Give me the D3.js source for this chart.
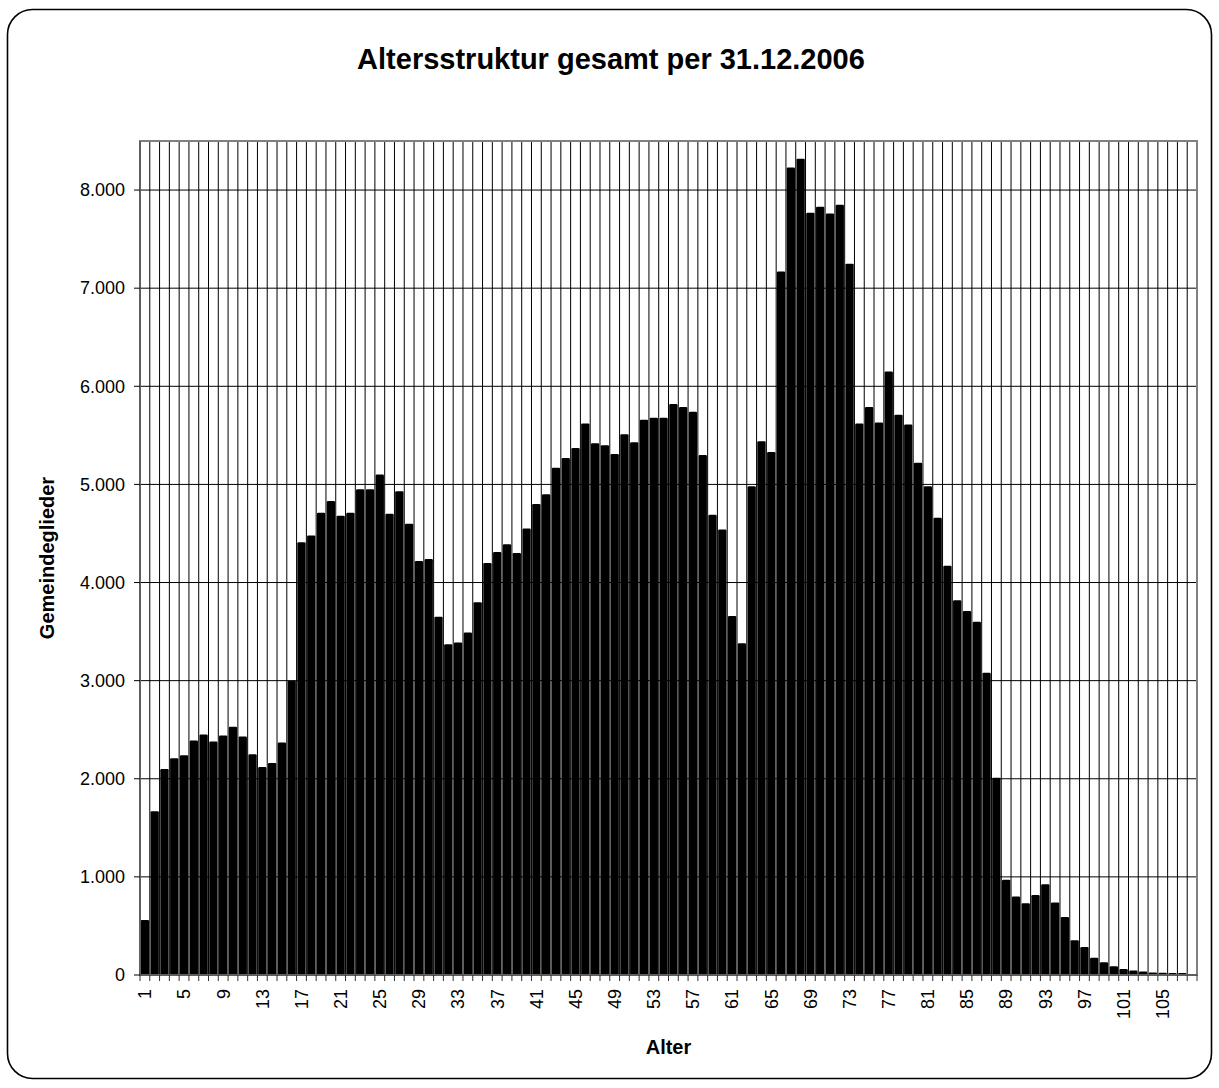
<!DOCTYPE html>
<html>
<head>
<meta charset="utf-8">
<script src="https://cdn.jsdelivr.net/npm/d3@7"></script>
<style>
  html, body { margin: 0; padding: 0; background: #fff; }
  svg { display: block; font-family: "Liberation Sans", Arial, sans-serif; }
</style>
</head>
<body>
<svg id="chart" width="1219" height="1088"></svg>
<script>
// Ages (categories)
const ages = [
  1,2,3,4,5,6,7,8,9,10,11,12,13,14,15,16,17,18,19,20,
  21,22,23,24,25,26,27,28,29,30,31,32,33,34,35,36,37,38,39,40,
  41,42,43,44,45,46,47,48,49,50,51,52,53,54,55,56,57,58,59,60,
  61,62,63,64,65,66,67,68,69,70,71,72,73,74,75,76,77,78,79,80,
  81,82,83,84,85,86,87,88,89,90,91,92,93,94,95,96,97,98,99,100,
  101,102,103,104,105,106,107,108
];

// Number of members per age
const members = [
  560,1670,2100,2210,2240,2390,2450,2380,2440,2530,
  2430,2250,2120,2160,2370,3000,4410,4480,4710,4830,
  4680,4710,4950,4950,5100,4700,4930,4600,4220,4240,
  3650,3370,3390,3490,3800,4200,4310,4390,4300,4550,
  4800,4900,5170,5270,5370,5620,5420,5400,5310,5510,
  5430,5660,5680,5680,5820,5790,5740,5300,4690,4540,
  3660,3380,4980,5440,5330,7170,8230,8320,7770,7830,
  7760,7850,7250,5620,5790,5630,6150,5710,5610,5220,
  4980,4660,4170,3820,3710,3600,3080,2010,970,800,
  730,815,925,740,590,355,285,175,130,90,
  60,45,35,25,22,20,20,0
];

// Labelled ages on the x axis
const xTickLabels = [1,5,9,13,17,21,25,29,33,37,41,45,49,53,57,61,65,69,73,77,81,85,89,93,97,101,105];

// Y axis ticks
const yTicks = [0,1000,2000,3000,4000,5000,6000,7000,8000];

const titleText = "Altersstruktur gesamt per 31.12.2006";
const xTitle = "Alter";
const yTitle = "Gemeindeglieder";

const svg = d3.select("#chart");
const W = 1219, H = 1088;
const plot = { left: 140, top: 141, right: 1197, bottom: 975 };

// Outer rounded frame
svg.append("rect")
  .attr("x", 7.5).attr("y", 9.5)
  .attr("width", W - 15).attr("height", H - 19)
  .attr("rx", 25).attr("ry", 25)
  .attr("fill", "#fff")
  .attr("stroke", "#000")
  .attr("stroke-width", 1.6);

const data = ages.map((a, i) => ({ age: a, value: members[i] }));

const x = d3.scaleBand()
  .domain(ages)
  .range([plot.left, plot.right])
  .paddingInner(0.15)
  .paddingOuter(0.075);

const y = d3.scaleLinear()
  .domain([0, 8500])
  .range([plot.bottom, plot.top]);

const step = x.step();
const gapHalf = step * x.paddingInner() / 2;
const boundaries = ages.map(a => x(a) - gapHalf).concat([plot.right]);

const de = d3.formatLocale({ decimal: ",", thousands: ".", grouping: [3], currency: ["", " €"] });
const fmt = de.format(",.0f");

// Horizontal gridlines
svg.append("g")
  .selectAll("line")
  .data(yTicks.filter(v => v > 0))
  .join("line")
  .attr("x1", plot.left).attr("x2", plot.right)
  .attr("y1", d => y(d)).attr("y2", d => y(d))
  .attr("stroke", "#000")
  .attr("stroke-width", 1);

// Vertical gridlines at every category boundary
svg.append("g")
  .selectAll("line")
  .data(boundaries.slice(1, -1))
  .join("line")
  .attr("x1", d => d).attr("x2", d => d)
  .attr("y1", plot.top).attr("y2", plot.bottom)
  .attr("stroke", "#000")
  .attr("stroke-width", 1);

// Bars
svg.append("g")
  .selectAll("rect")
  .data(data.filter(d => d.value > 0))
  .join("rect")
  .attr("x", d => x(d.age))
  .attr("width", x.bandwidth())
  .attr("y", d => y(d.value))
  .attr("height", d => y(0) - y(d.value))
  .attr("rx", 1.2)
  .attr("fill", "#000");

// Plot frame
svg.append("rect")
  .attr("x", plot.left).attr("y", plot.top)
  .attr("width", plot.right - plot.left)
  .attr("height", plot.bottom - plot.top)
  .attr("fill", "none")
  .attr("stroke", "#808080")
  .attr("stroke-width", 2);

// Y axis line, ticks and labels
svg.append("line")
  .attr("x1", plot.left).attr("x2", plot.left)
  .attr("y1", plot.top).attr("y2", plot.bottom)
  .attr("stroke", "#555").attr("stroke-width", 1.5);

const yAxis = svg.append("g");
yAxis.selectAll("line")
  .data(yTicks)
  .join("line")
  .attr("x1", plot.left - 6).attr("x2", plot.left)
  .attr("y1", d => y(d)).attr("y2", d => y(d))
  .attr("stroke", "#000");
yAxis.selectAll("text")
  .data(yTicks)
  .join("text")
  .attr("x", plot.left - 15)
  .attr("y", d => y(d))
  .attr("dy", "0.35em")
  .attr("text-anchor", "end")
  .attr("font-size", 18)
  .attr("fill", "#000")
  .text(d => fmt(d));

// X axis line, ticks and labels
svg.append("line")
  .attr("x1", plot.left).attr("x2", plot.right)
  .attr("y1", plot.bottom).attr("y2", plot.bottom)
  .attr("stroke", "#555").attr("stroke-width", 1.5);

const xAxis = svg.append("g");
xAxis.selectAll("line")
  .data(boundaries)
  .join("line")
  .attr("x1", d => d).attr("x2", d => d)
  .attr("y1", plot.bottom).attr("y2", plot.bottom + 6)
  .attr("stroke", "#333");
xAxis.selectAll("text")
  .data(xTickLabels)
  .join("text")
  .attr("transform", d => `translate(${x(d) + x.bandwidth() / 2},${plot.bottom + 14}) rotate(-90)`)
  .attr("dy", "0.35em")
  .attr("text-anchor", "end")
  .attr("font-size", 18)
  .attr("fill", "#000")
  .text(d => String(d));

// Titles
svg.append("text")
  .attr("x", 611).attr("y", 69)
  .attr("text-anchor", "middle")
  .attr("font-size", 29)
  .attr("font-weight", "bold")
  .text(titleText);

svg.append("text")
  .attr("x", (plot.left + plot.right) / 2).attr("y", 1054)
  .attr("text-anchor", "middle")
  .attr("font-size", 20)
  .attr("font-weight", "bold")
  .text(xTitle);

svg.append("text")
  .attr("transform", `translate(54,${(plot.top + plot.bottom) / 2}) rotate(-90)`)
  .attr("text-anchor", "middle")
  .attr("font-size", 20)
  .attr("font-weight", "bold")
  .text(yTitle);
</script>
</body>
</html>
